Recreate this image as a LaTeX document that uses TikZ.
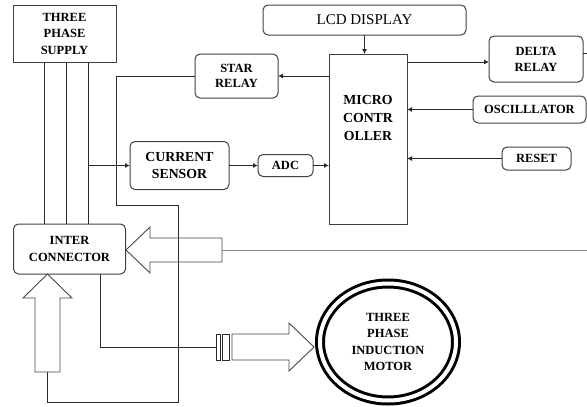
\documentclass[tikz,border=0pt]{standalone}
\usepackage{fontspec}
\setmainfont{Liberation Serif}
\usetikzlibrary{positioning,arrows.meta,shapes.geometric}
\definecolor{boxline}{HTML}{404040}
\definecolor{wireline}{HTML}{2A2A2A}
\definecolor{busline}{HTML}{8A8A8A}
\definecolor{blockline}{HTML}{484848}

\begin{document}
\begin{tikzpicture}[
    x=1pt, y=-1pt,
    node distance=29pt,
    plainbox/.style={draw=boxline, line width=1pt, inner sep=0pt, outer sep=0pt, align=center, font=\bfseries\fontsize{12.5}{16.5}\selectfont},
    roundbox/.style={plainbox, rounded corners=5pt},
    wire/.style={draw=wireline, line width=0.9pt},
    sig/.style={wire, -{Latex[length=5pt,width=5pt]}},
    hollow/.style={draw=blockline, line width=0.9pt, line join=miter}
]
\useasboundingbox (0,0) rectangle (587,407);

\node[plainbox, minimum width=103pt, minimum height=57pt] (supply) at (64.5,33.5) {THREE\\PHASE\\SUPPLY};
\node[roundbox, minimum width=203pt, minimum height=30pt, font=\fontsize{15}{18}\selectfont] (lcd) at (364.5,20) {LCD DISPLAY};
\node[plainbox, minimum width=78pt, minimum height=170pt] (micro) at (368,139) {};
\node[align=center, inner sep=0pt, font=\bfseries\fontsize{13.8}{18}\selectfont] (microtxt) at ([yshift=21pt]micro.center) {MICRO\\CONTR\\OLLER};
\node[roundbox, minimum width=83pt, minimum height=44pt, font=\bfseries\fontsize{12.5}{15.5}\selectfont] (star) at (236.5,76) {STAR\\RELAY};
\node[roundbox, minimum width=94pt, minimum height=46pt, font=\bfseries\fontsize{12.5}{16}\selectfont] (delta) at (536,59) {DELTA\\RELAY};
\node[roundbox, minimum width=113pt, minimum height=27pt] (osc) at (529.5,109.5) {OSCILLLATOR};
\node[roundbox, minimum width=69pt, minimum height=23pt] (reset) at (536.5,158.5) {RESET};
\node[roundbox, minimum width=99pt, minimum height=48pt, font=\bfseries\fontsize{13.8}{17}\selectfont] (current) at (179.5,165.5) {CURRENT\\SENSOR};
\node[roundbox, minimum width=55pt, minimum height=22pt] (adc) [right=of current] {ADC};
\node[roundbox, minimum width=112pt, minimum height=50pt, font=\bfseries\fontsize{12.5}{17}\selectfont] (inter) at (69.5,249) {INTER\\CONNECTOR};
\node[ellipse, draw=black, line width=3pt, double=white, double distance=4pt, minimum width=136pt, minimum height=117pt, inner sep=0pt, align=center, font=\bfseries\fontsize{12.5}{16.3}\selectfont] (motor) at (388,342) {THREE\\PHASE\\INDUCTION\\MOTOR};
\node[draw=wireline, line width=0.8pt, minimum width=4pt, minimum height=26pt, inner sep=0pt, outer sep=0pt] (plateA) at (218,347) {};
\node[draw=wireline, line width=0.8pt, minimum width=7pt, minimum height=26pt, inner sep=0pt, outer sep=0pt] (plateB) at (225.5,347) {};

\coordinate (phaseC) at ([xshift=23.5pt]supply.south);
\coordinate (din) at ([yshift=-3pt]delta.west);
\coordinate (dout) at (587,53);
\coordinate (ltail) at (222,250);
\coordinate (busend) at (587,250);
\coordinate (utail) at (47.5,372);
\coordinate (utip) at (47.5,274);

\foreach \dx in {-20.5,1.5,23.5}
    \draw[wire] ([xshift=\dx pt]supply.south) coordinate (p) -- (p |- inter.north);

\draw[sig] (lcd.south) -- (lcd.south |- micro.north);
\draw[sig] (micro.west |- star.east) -- (star.east);
\draw[sig] (din -| micro.east) -- (din);
\draw[wire] (dout -| delta.east) -- (dout);
\draw[sig] (osc.west) -- (osc.west -| micro.east);
\draw[sig] (reset.west) -- (reset.west -| micro.east);
\draw[sig] (phaseC |- current.west) -- (current.west);
\draw[sig] (current.east) -- (adc.west);
\draw[sig] (adc.east) -- (adc.east -| micro.west);

\draw[wire] (star.west) -| (116,205) -| (178,402) -| (utail);
\draw[wire] ([xshift=30.5pt]inter.south) |- (plateA.west);
\draw[draw=busline, line width=1pt] (ltail) -- (busend);

\draw[hollow] (126,250) -- (150,227) -- (150,238) -- (222,238) -- (222,262) -- (150,262) -- (150,273) -- cycle;
\draw[hollow] (35,372) -- (35,298) -- (23,298) -- (utip) -- (72,298) -- (60,298) -- (60,372) -- cycle;
\draw[hollow] (232,334) -- (289,334) -- (289,323) -- (314,347) -- (289,371) -- (289,360) -- (232,360) -- cycle;
\end{tikzpicture}
\end{document}
